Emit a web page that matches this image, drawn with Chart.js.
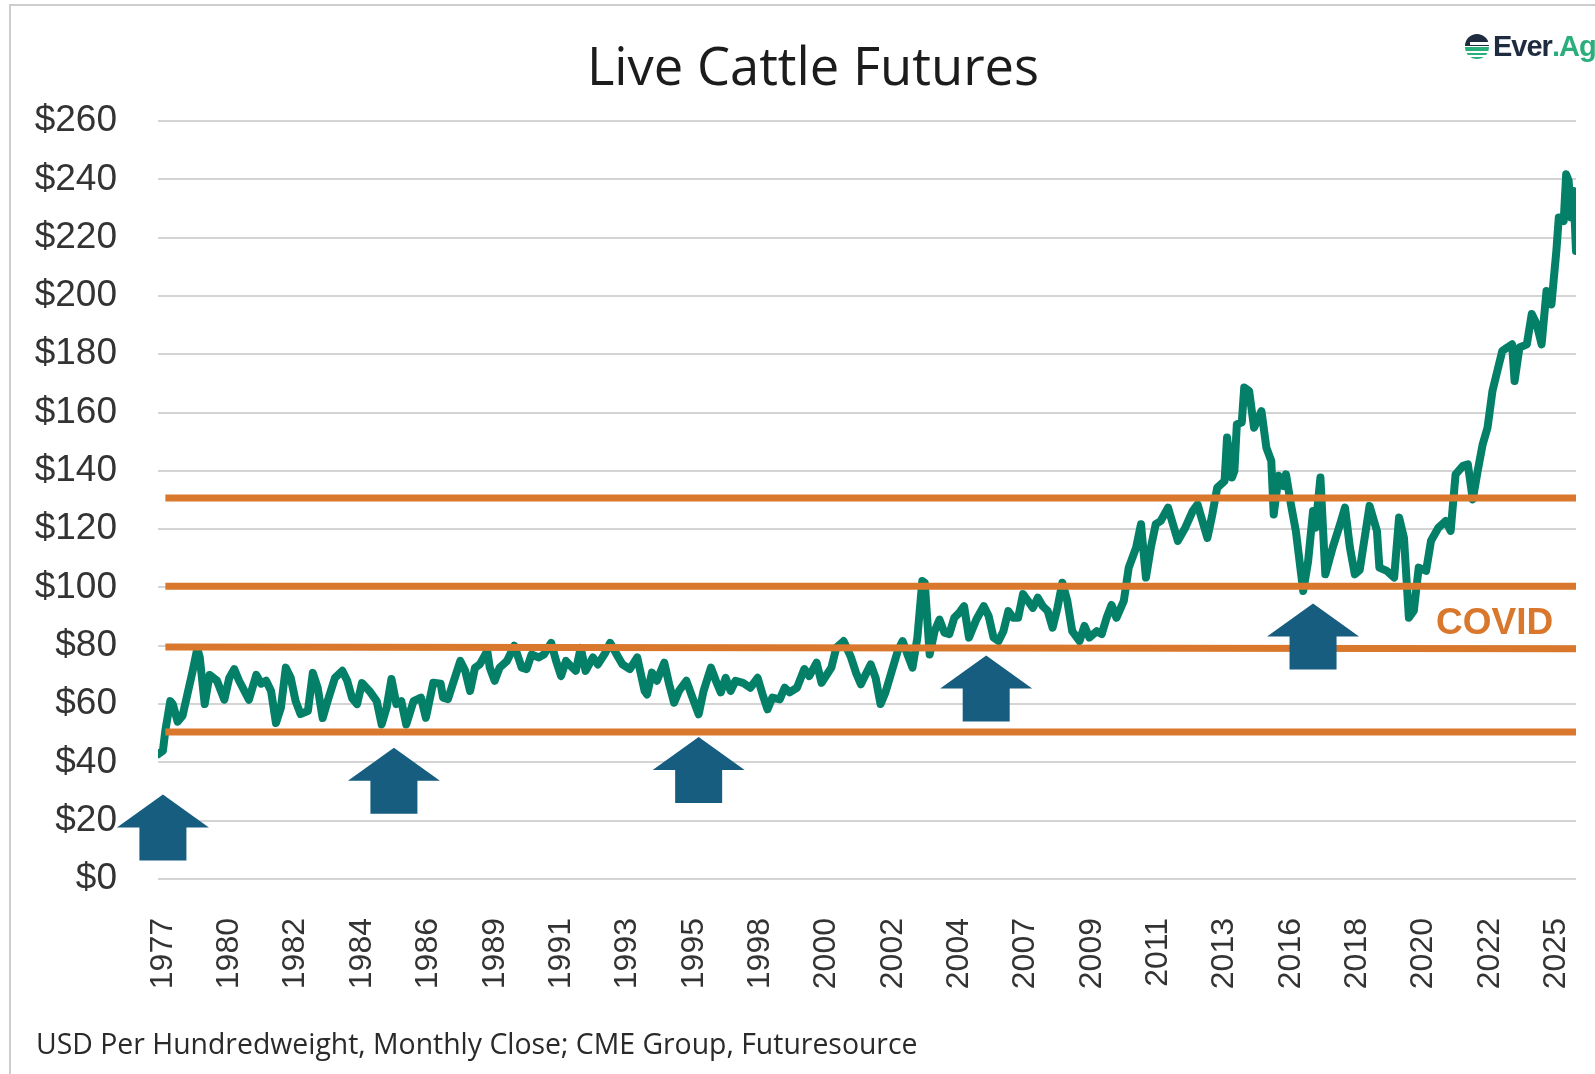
<!DOCTYPE html>
<html>
<head>
<meta charset="utf-8">
<title>Live Cattle Futures</title>
<script src="https://cdn.jsdelivr.net/npm/chart.js@4.4.1/dist/chart.umd.min.js"></script>
<style>
  html, body { margin: 0; padding: 0; background: #fff; }
  #wrap { position: relative; width: 1595px; height: 1074px; overflow: hidden; font-family: 'Open Sans', sans-serif; }
  #frame { position: absolute; left: 9px; top: 4px; right: -10px; bottom: -10px; border-left: 2px solid #cdcdcd; border-top: 2px solid #cdcdcd; }
  #chart { position: absolute; left: 0; top: 0; }
  #title { position: absolute; left: 813px; top: 39px; transform: translateX(-50%); font-size: 52.5px; line-height: 1; color: #1c1c1c; white-space: nowrap; }
  #footer { position: absolute; left: 36px; top: 1029px; font-size: 28.4px; line-height: 1; color: #2a2a2a; white-space: nowrap; }
  #covid { position: absolute; left: 1436px; top: 603px; font-family: 'Liberation Sans', Arial, sans-serif; font-weight: bold; font-size: 37px; line-height: 1; color: #d9782d; }
  #logo { position: absolute; left: 1463px; top: 31px; height: 30px; display: flex; align-items: center; white-space: nowrap; }
  #logo svg { margin-right: 2px; }
  #logo span { font-family: 'Liberation Sans', Arial, sans-serif; font-weight: bold; font-size: 29px; letter-spacing: -1px; }
  #logo .ever { color: #1f2c40; }
  #logo .ag { color: #2aae7c; }
</style>
</head>
<body>
<div id="wrap">
  <div id="frame"></div>
  <canvas id="chart" width="1595" height="1074"></canvas>
  <div id="title">Live Cattle Futures</div>
  <div id="logo">
    <svg width="28" height="28" viewBox="0 0 28 28">
      <path d="M2 14 A12 12 0 0 1 26 14 Z" fill="#1f2c40"/>
      <rect x="7" y="10" width="19" height="3" fill="#fff"/>
      <path d="M2 15 H26 A12 12 0 0 1 2 15 Z" fill="#2aae7c"/>
      <rect x="3" y="19" width="22" height="2" fill="#fff"/>
      <rect x="5" y="23" width="18" height="2" fill="#fff"/>
    </svg>
    <span class="ever">Ever</span><span class="ag">.Ag</span>
  </div>
  <div id="covid">COVID</div>
  <div id="footer">USD Per Hundredweight, Monthly Close; CME Group, Futuresource</div>
</div>
<script>
// Live cattle futures, monthly close (USD/cwt)
const priceDates = [
  '1977-10','1977-12','1978-01','1978-03','1978-04','1978-06','1978-08','1978-10','1978-12',
  '1979-02','1979-03','1979-05','1979-07','1979-10','1980-01','1980-03','1980-05','1980-07','1980-11',
  '1981-02','1981-04','1981-06','1981-08','1981-10','1981-12','1982-02','1982-04','1982-06','1982-08','1982-11',
  '1983-01','1983-03','1983-05','1983-07','1983-10','1984-01','1984-03','1984-05','1984-07','1984-09','1984-12',
  '1985-03','1985-05','1985-07','1985-09','1985-11','1986-01','1986-03','1986-06','1986-09','1986-11',
  '1987-02','1987-05','1987-06','1987-08','1987-10','1988-01','1988-03','1988-05','1988-07','1988-09','1988-12',
  '1989-01','1989-03','1989-05','1989-08','1989-11','1990-02','1990-04','1990-06','1990-09','1990-11',
  '1991-02','1991-04','1991-06','1991-08','1991-10','1991-12','1992-02','1992-04','1992-07','1992-09','1992-12',
  '1993-02','1993-05','1993-07','1993-10','1994-01','1994-04','1994-05','1994-07','1994-09','1994-12',
  '1995-02','1995-04','1995-06','1995-09','1995-11','1996-02','1996-04','1996-07','1996-09','1996-11',
  '1997-01','1997-03','1997-05','1997-08','1997-11','1998-02','1998-04','1998-06','1998-08','1998-11',
  '1999-01','1999-03','1999-06','1999-09','1999-11','2000-02','2000-04','2000-08','2000-10',
  '2001-01','2001-04','2001-06','2001-08','2001-10','2001-12','2002-02','2002-04','2002-06','2002-09','2002-11',
  '2003-01','2003-03','2003-05','2003-07','2003-09','2003-10','2003-12','2004-02','2004-04','2004-06','2004-08','2004-10','2004-12',
  '2005-02','2005-04','2005-07','2005-10','2005-12','2006-02','2006-04','2006-06','2006-08','2006-10','2006-12',
  '2007-02','2007-04','2007-06','2007-08','2007-10','2007-12','2008-02','2008-04','2008-06','2008-08','2008-10',
  '2009-01','2009-03','2009-05','2009-08','2009-10','2009-12','2010-02','2010-04','2010-07','2010-09','2010-12',
  '2011-02','2011-04','2011-06','2011-08','2011-10','2012-01','2012-05','2012-08','2012-11',
  '2013-01','2013-05','2013-07','2013-09','2013-12','2014-01','2014-03','2014-04','2014-05','2014-07','2014-08','2014-10','2014-12',
  '2015-03','2015-05','2015-07','2015-08','2015-10','2015-12','2016-01','2016-03','2016-05','2016-08','2016-10','2016-12',
  '2017-01','2017-03','2017-05','2017-08','2017-11','2018-01','2018-03','2018-05','2018-07','2018-11',
  '2019-02','2019-03','2019-06','2019-09','2019-11','2020-01','2020-03','2020-05','2020-07','2020-10','2020-12',
  '2021-03','2021-06','2021-08','2021-10','2022-01','2022-03','2022-05','2022-07','2022-09','2022-11',
  '2023-01','2023-03','2023-05','2023-07','2023-09','2023-10','2023-12','2024-03','2024-05','2024-07','2024-09','2024-11',
  '2025-01','2025-03','2025-04','2025-06','2025-07','2025-08','2025-09','2025-10','2025-11'
];
const priceValues = [
  42.8,44,51,61,60,54,56,63.5,71,
  79,76,60,70,68,61.5,69,72,68,61.5,
  70,67,68,64.5,53.5,58.7,72.5,69,61,56.6,57.6,
  70.7,65.5,55.2,61,69,71.4,68,62,60,67.2,64.5,
  61,53,58.7,68.6,60,61,53,61,62.2,55.3,
  67.3,67,62.2,61.7,67,74.8,71.4,64.5,72.5,73.7,78.2,
  72.5,68,72.5,74.8,80,72.5,72,77,76,77,
  81,74.8,69.6,74.8,73,71.4,79.3,71.4,76,73.6,77.6,
  81,76.5,73.6,72,76,64.5,63.3,70.8,68,74.2,
  66.8,60.5,64.5,68,63.3,56.5,64.5,72.5,68,64,
  69,64.5,68,67.3,65.6,69,63.3,58.2,62.2,61.6,
  65.6,64,65.6,72,69.6,74.2,67.3,72.5,79.3,
  81.6,76,70.8,66.8,70.2,73.6,69,60,64,72.5,78.2,
  81.6,77,72.5,82.8,102.2,101.6,77,85,89,84.5,84,89.6,91.3,
  93.6,82.8,89,93.6,90.2,82.8,81.6,85,91.9,89.6,89.6,
  97.7,95.4,93,96.5,93.6,92,86.2,93,101.6,95.4,85,
  81.6,86.8,82.8,85,84,89.6,94,89.6,95.4,106.8,113.7,
  121.7,103.4,113.7,121.7,122.8,127.4,116,120.5,126.2,
  128.5,117,125,134.2,136.5,151.4,137.7,140,156,156.6,168.6,167.4,154.8,
  160.5,148,143.4,125,138.3,134.8,138.8,128.5,119.4,98.8,109,126.2,
  120.5,137.7,104.5,113.7,121.7,127.4,113.7,104.5,106,128,
  119.4,106.8,105.7,103.4,124,117,89.6,92,106.8,105.7,116,
  120.5,122.8,119.4,138.8,141.7,142.2,130.2,140,149,154.8,
  167.4,174.3,181.1,182.3,183.4,170.8,182.3,183.4,193.8,190.3,183.4,201.7,
  197.1,215.4,226.9,225.7,241.7,239.5,226.9,236,215.4
];

// x axis: one year label every 27 months
const xTickLabels = ['1977','1980','1982','1984','1986','1989','1991','1993','1995','1998','2000',
  '2002','2004','2007','2009','2011','2013','2016','2018','2020','2022','2025'];
const xTickFirst = '1977-12';
const xTickEvery = 27;
const yMin = 0, yMax = 260, yStep = 20;

// orange support / resistance lines (level at left end, level at right end)
const levelStart = [130.7, 100.4, 79.6, 50.4];
const levelEnd   = [130.7, 100.4, 79.0, 50.4];
const levelFrom = '1978-01', levelTo = '2025-11';

// blue arrows: tip position (month, price)
const arrowDates  = ['1977-12', '1985-10', '1996-02', '2005-11', '2016-12'];
const arrowLevels = [29, 45, 48.7, 76.7, 94.5];

function monthIndex(s) {
  const [yy, mm] = s.split('-').map(Number);
  return (yy - 1977) * 12 + (mm - 10);
}

const priceSeries = priceDates.map((d, i) => ({ x: monthIndex(d), y: priceValues[i] }));

const levelSets = levelStart.map((lv, i) => ({
  data: [{ x: monthIndex(levelFrom), y: lv }, { x: monthIndex(levelTo), y: levelEnd[i] }],
  borderColor: '#d9782d',
  borderWidth: 7,
  borderCapStyle: 'butt',
  pointRadius: 0,
  order: 1
}));

const arrowPlugin = {
  id: 'arrows',
  afterDatasetsDraw(chart) {
    const { ctx, scales: { x, y } } = chart;
    ctx.save();
    ctx.fillStyle = '#175d80';
    arrowDates.forEach((d, i) => {
      const tx = x.getPixelForValue(monthIndex(d));
      const ty = y.getPixelForValue(arrowLevels[i]);
      ctx.beginPath();
      ctx.moveTo(tx, ty);
      ctx.lineTo(tx + 46, ty + 33);
      ctx.lineTo(tx + 23.5, ty + 33);
      ctx.lineTo(tx + 23.5, ty + 66);
      ctx.lineTo(tx - 23.5, ty + 66);
      ctx.lineTo(tx - 23.5, ty + 33);
      ctx.lineTo(tx - 46, ty + 33);
      ctx.closePath();
      ctx.fill();
    });
    ctx.restore();
  }
};

const tickFont = "'Liberation Sans', Arial, sans-serif";

new Chart(document.getElementById('chart'), {
  type: 'line',
  data: {
    datasets: [{
      label: 'Live Cattle',
      data: priceSeries,
      borderColor: '#047f68',
      borderWidth: 8,
      borderJoinStyle: 'round',
      borderCapStyle: 'round',
      pointRadius: 0,
      tension: 0,
      order: 2
    }, ...levelSets]
  },
  options: {
    responsive: false,
    animation: false,
    devicePixelRatio: 1,
    layout: { padding: { top: 121, right: 19, bottom: 0, left: 0 } },
    plugins: { legend: { display: false }, tooltip: { enabled: false }, title: { display: false } },
    scales: {
      x: {
        type: 'linear',
        min: 0,
        max: monthIndex('2025-11'),
        grid: { display: false },
        border: { display: false },
        afterBuildTicks: s => {
          s.ticks = xTickLabels.map((_, k) => ({ value: monthIndex(xTickFirst) + k * xTickEvery }));
        },
        afterFit: s => { s.height = 195; s.paddingLeft = 0; s.paddingRight = 0; },
        ticks: {
          autoSkip: false,
          minRotation: 90,
          maxRotation: 90,
          padding: 31,
          color: '#333',
          font: { family: tickFont, size: 32 },
          callback: (v, i) => xTickLabels[i]
        }
      },
      y: {
        min: yMin,
        max: yMax,
        grid: { color: '#d4d4d4', lineWidth: 2, drawTicks: false },
        border: { display: false },
        afterFit: s => { s.width = 158; },
        ticks: {
          stepSize: yStep,
          padding: 41,
          color: '#333',
          font: { family: tickFont, size: 37 },
          callback: v => '$' + v
        }
      }
    }
  },
  plugins: [arrowPlugin]
});
</script>
</body>
</html>
